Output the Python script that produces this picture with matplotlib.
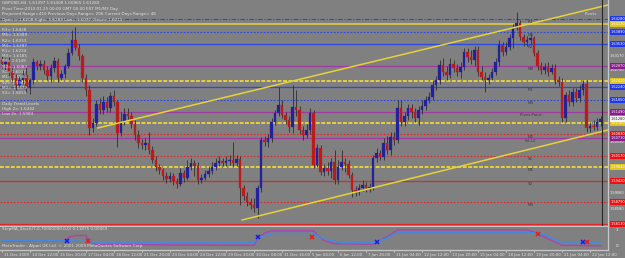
import matplotlib
matplotlib.use("Agg")
import matplotlib.pyplot as plt
from matplotlib.transforms import blended_transform_factory as blend

# GBPUSD H4 candles, prices in pips (1 pip = 0.0001)
first_open = 16305
close_pips = [
    16293, 16299, 16269, 16251, 16230, 16245, 16260, 16221, 16245, 16299,
    16287, 16293, 16275, 16257, 16281, 16302, 16251, 16263, 16287, 16326,
    16365, 16341, 16317, 16251, 16215, 16101, 16116, 16173, 16155, 16179,
    16161, 16197, 16179, 16086, 16119, 16143, 16137, 16113, 16080, 16056,
    16050, 16056, 16035, 16005, 15984, 15975, 15957, 15948, 15957, 15942,
    15933, 15966, 15951, 15984, 15996, 15987, 15945, 15951, 15963, 15972,
    15984, 15996, 16002, 15996, 16002, 16005, 15996, 16008, 15921, 15897,
    15879, 15870, 15861, 15921, 16065, 16059, 16071, 16119, 16146, 16170,
    16140, 16125, 16104, 16164, 16155, 16095, 16080, 16095, 16146, 15990,
    16041, 15969, 15981, 15972, 15999, 15945, 15984, 15999, 15993, 15960,
    15915, 15909, 15921, 15930, 15921, 15924, 16011, 16026, 16014, 16056,
    16035, 16074, 16065, 16161, 16119, 16137, 16161, 16149, 16131, 16155,
    16167, 16185, 16194, 16230, 16245, 16290, 16269, 16260, 16293, 16281,
    16269, 16284, 16329, 16314, 16305, 16335, 16269, 16254, 16245, 16251,
    16269, 16299, 16350, 16329, 16344, 16371, 16401, 16416, 16374, 16359,
    16365, 16371, 16326, 16287, 16275, 16284, 16269, 16281, 16245, 16239,
    16131, 16200, 16179, 16209, 16191, 16215, 16233, 16101, 16107, 16104,
    16119, 16128,
]
high_pips = [
    16317, 16311, 16314, 16281, 16263, 16257, 16275, 16284, 16251, 16311,
    16305, 16305, 16305, 16287, 16293, 16314, 16311, 16275, 16293, 16341,
    16395, 16404, 16353, 16323, 16263, 16230, 16131, 16185, 16191, 16197,
    16194, 16209, 16215, 16185, 16149, 16161, 16161, 16149, 16125, 16095,
    16068, 16071, 16089, 16047, 16017, 15993, 15981, 15969, 15969, 15966,
    15951, 15981, 15975, 16005, 16011, 16005, 15999, 15963, 15975, 15987,
    15999, 16011, 16017, 16011, 16017, 16020, 16059, 16020, 16017, 15930,
    15909, 15891, 15891, 15930, 16074, 16077, 16083, 16131, 16155, 16224,
    16185, 16149, 16137, 16230, 16215, 16167, 16107, 16113, 16161, 16155,
    16053, 16050, 15993, 15999, 16011, 16035, 16005, 16035, 16011, 16005,
    15969, 15927, 15933, 15945, 15939, 15936, 16020, 16041, 16035, 16071,
    16077, 16089, 16089, 16185, 16185, 16149, 16173, 16173, 16161, 16167,
    16185, 16197, 16209, 16245, 16257, 16305, 16311, 16287, 16311, 16305,
    16293, 16299, 16341, 16341, 16335, 16347, 16347, 16287, 16269, 16263,
    16281, 16311, 16365, 16359, 16359, 16383, 16413, 16449, 16425, 16383,
    16377, 16383, 16377, 16335, 16299, 16296, 16299, 16293, 16293, 16257,
    16251, 16209, 16215, 16221, 16221, 16230, 16245, 16245, 16119, 16125,
    16131, 16137,
]
low_pips = [
    16281, 16275, 16254, 16239, 16215, 16221, 16233, 16209, 16203, 16233,
    16275, 16275, 16263, 16245, 16239, 16269, 16239, 16245, 16251, 16281,
    16320, 16335, 16305, 16239, 16197, 16080, 16089, 16107, 16143, 16143,
    16149, 16149, 16167, 16044, 16077, 16110, 16125, 16101, 16065, 16041,
    16038, 16035, 16023, 15996, 15972, 15963, 15945, 15936, 15939, 15930,
    15921, 15927, 15939, 15945, 15975, 15957, 15933, 15936, 15945, 15954,
    15963, 15975, 15987, 15987, 15987, 15990, 15987, 15987, 15870, 15885,
    15867, 15858, 15849, 15831, 15909, 16047, 16044, 16059, 16110, 16137,
    16131, 16113, 16089, 16086, 16137, 16083, 16065, 16071, 16083, 15981,
    15984, 15960, 15957, 15960, 15951, 15933, 15933, 15975, 15969, 15951,
    15894, 15897, 15900, 15912, 15909, 15909, 15915, 15999, 16005, 16005,
    16023, 16020, 16050, 16056, 16107, 16107, 16125, 16131, 16119, 16110,
    16143, 16155, 16176, 16185, 16215, 16233, 16257, 16245, 16251, 16269,
    16257, 16251, 16275, 16299, 16293, 16287, 16257, 16245, 16209, 16233,
    16245, 16260, 16287, 16317, 16320, 16335, 16341, 16395, 16365, 16347,
    16347, 16353, 16317, 16275, 16263, 16263, 16257, 16263, 16233, 16227,
    16119, 16119, 16167, 16167, 16179, 16179, 16200, 16089, 16089, 16095,
    16095, 16107,
]

# pivot levels: price, kind
level_prices = [1.6428, 1.6413, 1.6389, 1.6353, 1.6287, 1.6242, 1.6224, 1.6185,
                1.6149, 1.6116, 1.6083, 1.6071, 1.6017, 1.5984, 1.5942, 1.5879, 1.5813]
level_kinds = ['r_dashdot', 'week', 'r_dot', 'r_solid', 'mid', 'trend', 'r_solid', 'r_dot',
               'mid', 'trend', 's_dot', 'mid', 's_dot', 'trend', 's_solid', 's_dot', 's_solid']

line_names = ['R3', 'M5', 'R2', 'M4', 'R1', 'M3', 'Pivot Point', 'M2', 'S4-L2',
              'S1', 'M1', 'S2', 'M0']
line_name_prices = [1.6428, 1.6389, 1.6353, 1.6287, 1.6224, 1.6185, 1.6149, 1.6083,
                    1.6071, 1.6017, 1.5984, 1.5942, 1.5879]
side_names = ['R3', 'M5', 'R2', 'M4', 'R1', 'M3', 'PP', 'M2', 'S1', 'M1', 'S2', 'M0', 'S3']
side_prices = [1.6428, 1.6389, 1.6353, 1.6287, 1.6224, 1.6185, 1.6149, 1.6083,
               1.6017, 1.5984, 1.5942, 1.5879, 1.5813]
plain_ticks = [1.6317, 1.6275, 1.6059, 1.5906, 1.5858]

# trend lines (bar index, price)
upper_trend = [(27.4, 1.6101), (173.1, 1.6470)]
lower_trend = [(68.6, 1.5825), (173.1, 1.6095)]

# StepMA_Stoch indicator vertices (bar index, value)
stepma_pts = [(0, 0.33), (19, 0.33), (25, 0.28), (26, 0.2), (72, 0.2), (73, 0.5), (74, 0.6),
              (76, 0.7), (78, 0.78), (89, 0.78), (90, 0.65), (92, 0.45), (95, 0.3), (97, 0.2),
              (106, 0.2), (108, 0.35), (110, 0.5), (112, 0.75), (113, 0.82), (152, 0.82),
              (155, 0.7), (157, 0.5), (160, 0.25), (171, 0.25)]
stoch_pts = [(0, 0.31), (18, 0.33), (19, 0.55), (21, 0.65), (24, 0.65), (25, 0.3), (27, 0.1),
             (72, 0.05), (73, 0.45), (75, 0.8), (77, 0.95), (89, 0.95), (90, 0.7), (92, 0.35),
             (95, 0.15), (106, 0.12), (108, 0.35), (111, 0.7), (113, 1.0), (150, 1.0),
             (153, 0.8), (156, 0.45), (160, 0.05), (171, 0.02)]
buy_marks = [(18.6, 0.29), (73, 0.59), (107, 0.24), (166, 0.24)]
sell_marks = [(24.6, 0.29), (88.6, 0.59), (153, 0.76), (167.2, 0.24)]

time_labels = ['11 Dec 2009', '14 Dec 12:00', '15 Dec 20:00', '17 Dec 04:00', '18 Dec 12:00',
               '21 Dec 20:00', '23 Dec 04:00', '24 Dec 12:00', '29 Dec 20:00', '30 Dec 08:00',
               '31 Dec 16:00', '5 Jan 04:00', '6 Jan 12:00', '7 Jan 20:00', '11 Jan 04:00',
               '12 Jan 12:00', '13 Jan 20:00', '15 Jan 04:00', '18 Jan 12:00', '19 Jan 20:00',
               '21 Jan 04:00', '22 Jan 12:00']

header = ['GBPUSD,H4  1.61397 1.61408 1.60965 1.61280',
          'Pivot Time:2010.01.25 00:00 GMT 00:00 EST M1/M3 Day',
          'Projected Range=410 Previous Days Range= 206 Current Days Range= 48',
          'Open = 1.6208 High= 1.6283 Low= 1.6077 Close= 1.6211']

# ---- styling ----
BG = '#808080'
TXT = '#e2e2e2'
BULL = '#22229a'
BEAR = '#b81c1c'
BLUE = '#2a48e0'
PURPLE = '#a03ca0'
YELLOW = '#e6d23c'
RED = '#e02828'
kind_style = {
    'r_dashdot': (BLUE, (0, (4, 1.5, 1, 1.5)), 0.8),
    'r_dot': (BLUE, (0, (1.5, 1.5)), 0.8),
    'r_solid': (BLUE, '-', 0.9),
    'mid': (PURPLE, '-', 0.9),
    'week': (YELLOW, '-', 1.1),
    'trend': (YELLOW, (0, (2, 0.8)), 1.4),
    's_dot': (RED, (0, (1.5, 1.5)), 0.8),
    's_solid': (RED, '-', 0.9),
}
box_color = {'r_dashdot': '#2038e8', 'r_dot': '#2038e8', 'r_solid': '#2038e8', 'mid': '#8c1c8c',
             'week': '#e0c424', 'trend': '#e0c424', 's_dot': '#ee1010', 's_solid': '#ee1010'}
FS = 3.0   # small MetaTrader text
FS_AX = 2.5

fig = plt.figure(figsize=(6.25, 2.58), dpi=100, facecolor=BG)
ax = fig.add_axes([0, 1 - 226 / 258, 608 / 625, 226 / 258], facecolor=BG)
ax2 = fig.add_axes([0, 1 - 250 / 258, 608 / 625, 23 / 258], facecolor=BG)

n = len(close_pips)
idx = list(range(n))
closes = [c / 10000 for c in close_pips]
opens = [first_open / 10000] + closes[:-1]
highs = [max(h / 10000, o, c) for h, o, c in zip(high_pips, opens, closes)]
lows = [min(l / 10000, o, c) for l, o, c in zip(low_pips, opens, closes)]

xlim = (-0.57, 173.14)
for a in (ax, ax2):
    a.set_xlim(*xlim)
    a.set_xticks([])
    a.set_yticks([])
    for s in a.spines.values():
        s.set_color('#c8c8c8')
        s.set_linewidth(0.9)
    a.spines['top'].set_visible(False)
    a.spines['left'].set_visible(False)
ax.set_ylim(1.5807, 1.6485)
ax2.set_ylim(-0.24, 1.18)

# levels
for p, k in zip(level_prices, level_kinds):
    col, ls, lw = kind_style[k]
    ax.axhline(p, color=col, ls=ls, lw=lw, zorder=1)

# candles
ax.vlines(idx, lows, highs, color='#2e2e2e', lw=0.6, zorder=3)
for i in idx:
    o, c = opens[i], closes[i]
    col = BULL if c >= o else BEAR
    ax.bar(i, max(abs(c - o), 0.00012), bottom=min(o, c), width=0.62,
           color=col, edgecolor=col, lw=0.2, zorder=4)

# trend lines
for seg in (upper_trend, lower_trend):
    ax.plot([seg[0][0], seg[1][0]], [seg[0][1], seg[1][1]], color=YELLOW, lw=1.1, zorder=5)

ax.axvline(171.4, color='#262626', lw=0.8, zorder=6)

# labels along lines
for name, p in zip(line_names, line_name_prices):
    ax.text(151, p - 0.00018, name, fontsize=FS, color='#3a3a3a', ha='center', va='top', zorder=7)
ax.text(168.2, 1.6443, 'Pivots', fontsize=FS, color='#d8d8d8', ha='center', va='center', zorder=7)

# header and left column
tr = blend(ax.transAxes, ax.transData)
for k, line in enumerate(header):
    ax.text(0.004, 1 - (3.5 + 5.5 * k) / 226, line, transform=ax.transAxes, fontsize=FS,
            color=TXT, va='center', ha='left', zorder=8)
for k, (name, p) in enumerate(zip(side_names, side_prices)):
    ax.text(0.004, 1 - (30 + 5.25 * k) / 226, f'{name}= {p:.4f}', transform=ax.transAxes,
            fontsize=FS, color=TXT, va='center', ha='left', zorder=8)
extra = ['Daily Trend Levels', f'High 2x: {level_prices[5]:.4f}', f'Low 2x: {level_prices[13]:.4f}']
for k, line in enumerate(extra):
    ax.text(0.004, 1 - (104 + 5 * k) / 226, line, transform=ax.transAxes, fontsize=FS,
            color=TXT, va='center', ha='left', zorder=8)

# right price scale
for p in plain_ticks:
    ax.text(1.003, p, f'{p:.5f}', transform=tr, fontsize=FS_AX, color='#f2f2f2',
            va='center', ha='left', zorder=8, clip_on=False)
for p, k in zip(level_prices, level_kinds):
    ax.text(1.004, p, f'{p:.5f}', transform=tr, fontsize=FS_AX, color='white', va='center',
            ha='left', zorder=9, clip_on=False,
            bbox=dict(boxstyle='square,pad=0.25', fc=box_color[k], ec='none'))
ax.text(1.004, closes[-1], f'{closes[-1]:.5f}', transform=tr, fontsize=FS_AX, color='#202020',
        va='center', ha='left', zorder=10, clip_on=False,
        bbox=dict(boxstyle='square,pad=0.25', fc='#f4f4f4', ec='none'))

# indicator panel
ax2.plot([p[0] for p in stoch_pts], [p[1] for p in stoch_pts], color='#a848a8', lw=1.1, zorder=2)
ax2.plot([p[0] for p in stepma_pts], [p[1] for p in stepma_pts], color='#3c8ce8', lw=1.0, zorder=3)
ax2.plot([m[0] for m in buy_marks], [m[1] for m in buy_marks], 'x', color='#1a1ae0',
         ms=3, mew=1.1, zorder=4)
ax2.plot([m[0] for m in sell_marks], [m[1] for m in sell_marks], 'x', color='#f01818',
         ms=3, mew=1.1, zorder=4)
ax2.text(0.004, 0.9, 'StepMA_Stoch(7,0.70000000,0,0) 0.11875 0.00459', transform=ax2.transAxes,
         fontsize=FS, color=TXT, va='center', ha='left')
ax2.text(0.004, 0.17, 'MetaTrader - Alpari UK Ltd. \u00a9 2001-2009 MetaQuotes Software Corp.',
         transform=ax2.transAxes, fontsize=FS, color=TXT, va='center', ha='left')
tr2 = blend(ax2.transAxes, ax2.transData)
for v in (1, 0):
    ax2.text(1.012, v, str(v), transform=tr2, fontsize=FS, color='#f2f2f2',
             va='center', ha='left', clip_on=False)

# time axis
trx = blend(ax2.transData, ax2.transAxes)
for k, lab in enumerate(time_labels):
    x = 8 * k
    ax2.plot([x, x], [-0.02, -0.1], transform=trx, color='#d0d0d0', lw=0.5, clip_on=False)
    ax2.text(x + 0.5, -0.2, lab, transform=trx, fontsize=2.8, color=TXT,
             va='center', ha='left', clip_on=False)

fig.savefig('out.png', dpi=100, facecolor=BG)
